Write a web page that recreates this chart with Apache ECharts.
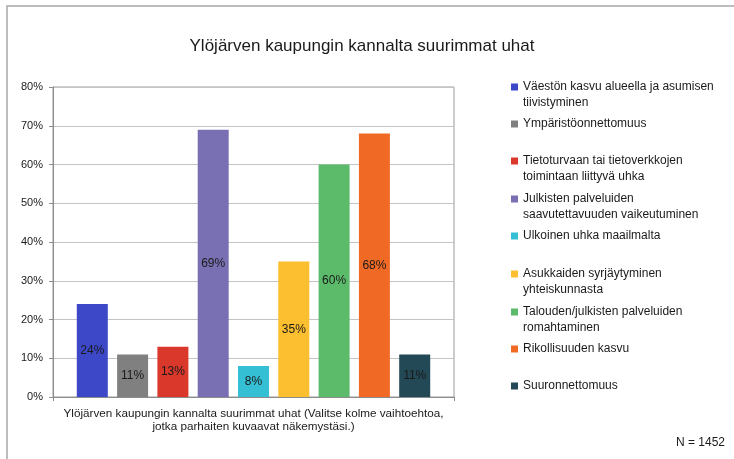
<!DOCTYPE html>
<html>
<head>
<meta charset="utf-8">
<script src="https://cdn.jsdelivr.net/npm/echarts@6/dist/echarts.min.js"></script>
<style>html,body{margin:0;padding:0;background:#fff;}#c{width:734px;height:459px;}</style>
</head>
<body>
<div id="c"></div>
<script>
const titleText = 'Ylöjärven kaupungin kannalta suurimmat uhat';
const categories = ['Ylöjärven kaupungin kannalta suurimmat uhat (Valitse kolme vaihtoehtoa,\njotka parhaiten kuvaavat näkemystäsi.)'];
const seriesNames = [
  'Väestön kasvu alueella ja asumisen\ntiivistyminen',
  'Ympäristöonnettomuus',
  'Tietoturvaan tai tietoverkkojen\ntoimintaan liittyvä uhka',
  'Julkisten palveluiden\nsaavutettavuuden vaikeutuminen',
  'Ulkoinen uhka maailmalta',
  'Asukkaiden syrjäytyminen\nyhteiskunnasta',
  'Talouden/julkisten palveluiden\nromahtaminen',
  'Rikollisuuden kasvu',
  'Suuronnettomuus'
];
const seriesValues = [24, 11, 13, 69, 8, 35, 60, 68, 11];
const seriesColors = ['#3d48c9', '#808080', '#d9382b', '#7870b2', '#35bfd5', '#fbbf2f', '#5bbb6b', '#f06a26', '#234956'];
const yTicks = [0, 10, 20, 30, 40, 50, 60, 70, 80];
const noteText = 'N = 1452';

// first-line vertical centre of each legend entry (layout)
const legendCenters = [87, 124, 161, 199, 236, 274, 312, 349, 386];

const FONT = 'Liberation Sans';
const chart = echarts.init(document.getElementById('c'), null, {renderer: 'canvas'});

const legends = seriesNames.map((n, i) => {
  const two = n.indexOf('\n') >= 0;
  return {
    data: [n],
    orient: 'vertical',
    left: 511,
    top: legendCenters[i] - 8,
    padding: 0,
    itemWidth: 7,
    itemHeight: two ? 23 : 7,
    icon: two ? 'path://M0,0L7,0L7,7L0,7Z M0,23L0.01,23L0.01,22.99Z' : 'rect',
    selectedMode: false,
    textStyle: {fontFamily: FONT, fontSize: 12, color: '#1a1a1a', lineHeight: 16}
  };
});

const series = seriesNames.map((n, i) => ({
  name: n,
  type: 'bar',
  data: [seriesValues[i]],
  barWidth: 31,
  barGap: '30%',
  itemStyle: {color: seriesColors[i]},
  label: {
    show: true, position: 'inside', formatter: '{c}%',
    fontFamily: FONT, fontSize: 12, color: '#1a1a1a'
  }
}));

chart.setOption({
  animation: false,
  backgroundColor: '#fff',
  title: [
    {text: titleText, left: 357, top: 33, textAlign: 'center',
     textStyle: {fontFamily: FONT, fontSize: 17, fontWeight: 'normal', color: '#1a1a1a'}},
    {text: noteText, right: 4, top: 432,
     textStyle: {fontFamily: FONT, fontSize: 12, fontWeight: 'normal', color: '#1a1a1a'}}
  ],
  graphic: [{
    type: 'rect', shape: {x: 7, y: 6, width: 740, height: 470},
    style: {fill: 'none', stroke: '#a8a8a8', lineWidth: 1.5}, silent: true
  }],
  legend: legends,
  grid: {left: 53, right: 280, top: 87, bottom: 62, show: true, borderColor: '#9a9a9a', borderWidth: 1},
  xAxis: {
    type: 'category', data: categories,
    axisLine: {lineStyle: {color: '#8c8c8c'}},
    axisTick: {show: true, length: 4, lineStyle: {color: '#8c8c8c'}},
    axisLabel: {fontFamily: FONT, fontSize: 11.7, color: '#1a1a1a', lineHeight: 12.5, margin: 11}
  },
  yAxis: {
    type: 'value', min: yTicks[0], max: yTicks[yTicks.length - 1], interval: 10,
    axisLine: {show: true, lineStyle: {color: '#8c8c8c'}},
    axisTick: {show: true, length: 4, lineStyle: {color: '#8c8c8c'}},
    splitLine: {lineStyle: {color: '#c4c4c4'}},
    axisLabel: {formatter: '{value}%', fontFamily: FONT, fontSize: 11, color: '#1a1a1a', margin: 10}
  },
  series: series
});
</script>
</body>
</html>
